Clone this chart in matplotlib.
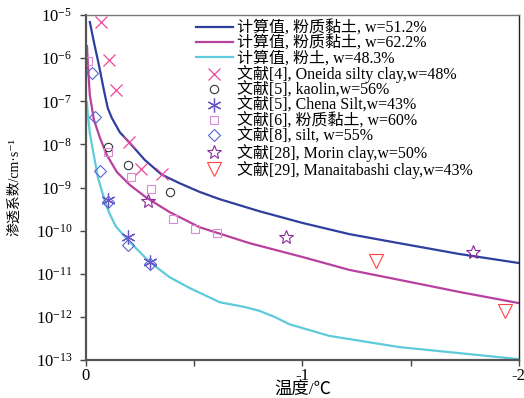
import matplotlib
matplotlib.use("Agg")
import matplotlib.pyplot as plt
from matplotlib.ticker import FixedLocator, NullLocator, LogLocator

plt.rcParams['font.family'] = ['Liberation Serif', 'Noto Sans CJK SC', 'DejaVu Serif']
plt.rcParams['mathtext.fontset'] = 'custom'
plt.rcParams['mathtext.rm'] = 'Liberation Serif'
plt.rcParams['mathtext.it'] = 'Liberation Serif:italic'

# computed curves: temperature (degC) and log10 of permeability (cm/s)
t_blue = [-0.018, -0.037, -0.060, -0.083, -0.101, -0.120, -0.157, -0.198, -0.272,
          -0.350, -0.433, -0.525, -0.618, -0.802, -1.0, -1.217, -1.447, -1.724, -2.0]
lk_blue = [-5.16, -5.63, -6.16, -6.74, -7.16, -7.39, -7.72, -7.94, -8.36,
           -8.70, -8.90, -9.10, -9.27, -9.55, -9.82, -10.08, -10.29, -10.54, -10.75]

t_mag = [-0.005, -0.009, -0.018, -0.037, -0.065, -0.097, -0.143, -0.203, -0.281,
         -0.387, -0.525, -0.756, -1.0, -1.217, -1.447, -1.724, -2.0]
lk_mag = [-5.72, -6.16, -6.86, -7.43, -7.85, -8.25, -8.64, -8.94, -9.24,
          -9.57, -9.92, -10.29, -10.61, -10.91, -11.14, -11.42, -11.68]

t_cyan = [-0.005, -0.009, -0.018, -0.032, -0.055, -0.083, -0.106, -0.138, -0.194,
          -0.295, -0.387, -0.479, -0.618, -0.733, -0.802, -0.871, -0.940, -1.124,
          -1.447, -1.724, -2.0]
lk_cyan = [-7.02, -7.32, -7.74, -8.13, -8.76, -9.24, -9.57, -9.90, -10.22,
           -10.73, -11.08, -11.33, -11.66, -11.77, -11.86, -12.00, -12.17, -12.44,
           -12.70, -12.84, -12.98]

# literature data
t_oneida = [-0.069, -0.106, -0.138, -0.198, -0.253, -0.350]
lk_oneida = [-5.16, -6.04, -6.74, -7.94, -8.57, -8.69]

t_kaolin = [-0.101, -0.194, -0.387]
lk_kaolin = [-8.06, -8.48, -9.10]

t_chena = [-0.101, -0.194, -0.295]
lk_chena = [-9.29, -10.15, -10.73]

t_silty = [-0.009, -0.101, -0.207, -0.300, -0.401, -0.502, -0.604]
lk_silty = [-6.07, -8.18, -8.76, -9.03, -9.73, -9.96, -10.06]

t_silt = [-0.028, -0.041, -0.065, -0.101, -0.194, -0.295]
lk_silt = [-6.34, -7.37, -8.62, -9.34, -10.33, -10.77]

t_morin = [-0.286, -0.926, -1.788]
lk_morin = [-9.31, -10.15, -10.50]

t_mana = [-1.341, -1.935]
lk_mana = [-10.70, -11.86]


def k(lk):
    return [10.0 ** v for v in lk]


fig = plt.figure(figsize=(5.24, 3.98), dpi=100)
ax = fig.add_axes([0.164, 0.0955, 0.826, 0.8665])

ax.plot(t_blue, k(lk_blue), color='#2e3f9e', lw=1.6, label='计算值, 粉质黏土, w=51.2%')
ax.plot(t_mag, k(lk_mag), color='#b8409f', lw=1.6, label='计算值, 粉质黏土, w=62.2%')
ax.plot(t_cyan, k(lk_cyan), color='#5ecbdc', lw=1.6, label='计算值, 粉土, w=48.3%')

ax.plot(t_oneida, k(lk_oneida), ls='none', marker='x', ms=9, mew=0.9, color='#f0459a',
        label='文献[4], Oneida silty clay,w=48%')
ax.plot(t_kaolin, k(lk_kaolin), ls='none', marker='o', ms=6, mew=0.8, mfc='none',
        color='#333333', label='文献[5], kaolin,w=56%')
ax.plot(t_chena, k(lk_chena), ls='none', marker=(6, 2, 0), ms=10, mew=0.9,
        color='#6a55c8', label='文献[5], Chena Silt,w=43%')
ax.plot(t_silty, k(lk_silty), ls='none', marker='s', ms=6, mew=0.8, mfc='none',
        color='#d98ad0', label='文献[6], 粉质黏土, w=60%')
ax.plot(t_silt, k(lk_silt), ls='none', marker='D', ms=6, mew=0.8, mfc='none',
        color='#5566cc', label='文献[8], silt, w=55%')
ax.plot(t_morin, k(lk_morin), ls='none', marker='*', ms=10, mew=0.8, mfc='none',
        color='#8a2a9a', label='文献[28], Morin clay,w=50%')
ax.plot(t_mana, k(lk_mana), ls='none', marker='v', ms=10, mew=0.8, mfc='none',
        color='#ff4040', label='文献[29], Manaitabashi clay,w=43%')

ax.set_yscale('log')
ax.set_ylim(1e-13, 1e-5)
ax.set_xlim(0, -2)
ax.yaxis.set_major_locator(LogLocator(base=10, numticks=20))
ax.yaxis.set_minor_locator(NullLocator())
ax.xaxis.set_major_locator(FixedLocator([0, -1, -2]))
ax.xaxis.set_minor_locator(FixedLocator([-0.5, -1.5]))
ax.set_xticklabels(['0', '-1', '-2'])

ax.tick_params(axis='both', which='both', direction='out', length=4, width=1,
               color='#444444', labelsize=12, top=False, right=False)
ax.tick_params(axis='x', pad=2)
ax.tick_params(axis='y', pad=6)
for side in ['left', 'bottom']:
    ax.spines[side].set_linewidth(1.6)
    ax.spines[side].set_color('#555555')
ax.spines['top'].set_color('#777777')
ax.spines['right'].set_color('#222222')
ax.spines['top'].set_linewidth(1.0)
ax.spines['right'].set_linewidth(1.0)

ax.set_xlabel('温度/℃', fontsize=12.5, labelpad=-1)
ax.set_ylabel('渗透系数/cm·s⁻¹', fontsize=10, labelpad=10)

ax.legend(loc='upper left', bbox_to_anchor=(0.254, 0.985), frameon=False, fontsize=11.5,
          labelspacing=-0.06, handlelength=2.3, handletextpad=0.3, borderpad=0,
          borderaxespad=0)

fig.savefig('out.png', dpi=100)
